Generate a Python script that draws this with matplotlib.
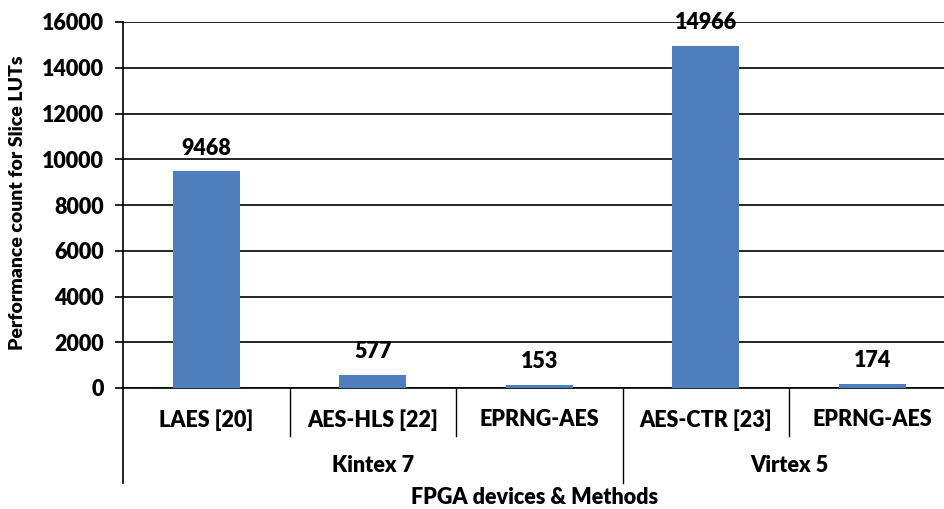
import matplotlib.pyplot as plt
import matplotlib.transforms as mtransforms

methods = ["LAES [20]", "AES-HLS [22]", "EPRNG-AES", "AES-CTR [23]", "EPRNG-AES"]
luts = [9468, 577, 153, 14966, 174]
devices = ["Kintex 7", "Virtex 5"]
device_sizes = [3, 2]
yticks = list(range(0, 16001, 2000))

plt.rcParams['font.family'] = ['Lato', 'DejaVu Sans']
plt.rcParams['font.weight'] = 'bold'

fig = plt.figure(figsize=(9.44, 5.09), dpi=100)
ax = fig.add_axes([123 / 944, 1 - 388 / 509, 5 * 166.5 / 944, 366 / 509])

x = list(range(len(methods)))
ax.bar(x, luts, width=0.4, color="#4F7EBD", zorder=3)
for xi, v in zip(x, luts):
    ax.text(xi, v + 550, str(v), ha="center", va="bottom", fontsize=15.5, fontweight="heavy")

ax.set_xlim(-0.5, len(methods) - 0.5)
ax.set_ylim(0, 16000)
ax.set_yticks(yticks)
ax.set_yticklabels([str(t) for t in yticks], fontsize=15.5, fontweight="heavy")
ax.tick_params(axis="y", length=6, width=1.2, color="black", pad=8)
ax.tick_params(axis="x", length=0, labelbottom=False)
ax.yaxis.grid(True, color="black", linewidth=1.2, zorder=0)
ax.set_axisbelow(True)
for s in ["top", "right"]:
    ax.spines[s].set_visible(False)
ax.spines["bottom"].set_linewidth(1.2)
ax.spines["left"].set_linewidth(1.2)
ax.spines["left"].set_bounds(0, 16000)

trans = mtransforms.blended_transform_factory(ax.transData, ax.transAxes)
low_cat = -48 / 366
low_grp = -95 / 366

# left axis extension
ax.plot([-0.5, -0.5], [0, low_grp], transform=trans, color="black", lw=1.2, clip_on=False)

# category labels and separators
for xi, m in zip(x, methods):
    ax.text(xi, -32 / 366, m, transform=trans, ha="center", va="center",
            fontsize=15.5, fontweight="heavy")
group_edges = [sum(device_sizes[:i + 1]) - 0.5 for i in range(len(device_sizes))]
for xi in x[:-1]:
    edge = xi + 0.5
    bottom = low_grp if edge in group_edges else low_cat
    ax.plot([edge, edge], [0, bottom], transform=trans, color="black", lw=1.0, clip_on=False)

# group labels
start = -0.5
for d, n in zip(devices, device_sizes):
    ax.text(start + n / 2, -78 / 366, d, transform=trans, ha="center", va="center",
            fontsize=15.5, fontweight="heavy")
    start += n

fig.text(535 / 944, 1 - 497 / 509, "FPGA devices & Methods", ha="center", va="center",
         fontsize=15.5, fontweight="heavy")
fig.text(18 / 944, 1 - 203 / 509, "Performance count for Slice LUTs", rotation=90,
         ha="center", va="center", fontsize=14, fontweight="heavy")

fig.savefig("out.png", dpi=100)
